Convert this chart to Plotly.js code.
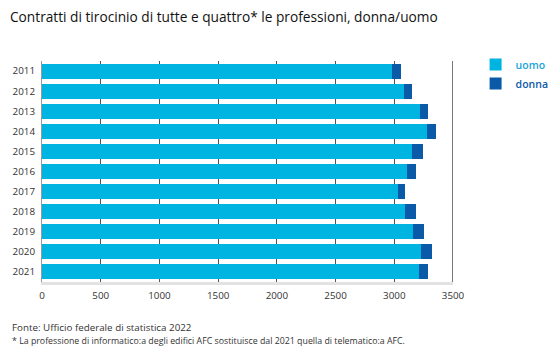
<!DOCTYPE html>
<html>
<head>
<meta charset="utf-8">
<script src="https://cdn.plot.ly/plotly-3.0.1.min.js"></script>
<style>html,body{margin:0;padding:0;background:#fff;}#chart{width:560px;height:359px;}</style>
</head>
<body>
<div id="chart"></div>
<script>
var years = ["2011","2012","2013","2014","2015","2016","2017","2018","2019","2020","2021"];
var uomo = [2980, 3085, 3220, 3275, 3150, 3105, 3030, 3095, 3160, 3225, 3210];
var donna = [75, 70, 70, 80, 95, 80, 65, 90, 95, 95, 80];
var xTicks = [0, 500, 1000, 1500, 2000, 2500, 3000, 3500];

var FONT = "Open Sans, Lato, sans-serif";
var traces = [
  {type: "bar", orientation: "h", y: years, x: uomo,
   name: '<span style="color:#1aa3da">uomo</span>',
   marker: {color: "#00b4e2"}, hoverinfo: "x+y"},
  {type: "bar", orientation: "h", y: years, x: donna,
   name: '<span style="color:#0b5aa8">donna</span>',
   marker: {color: "#0b5aa8"}, hoverinfo: "x+y"}
];

var layout = {
  width: 560, height: 359,
  margin: {l: 41.6, r: 106.7, t: 61, b: 77, autoexpand: false},
  paper_bgcolor: "#fff", plot_bgcolor: "#fff",
  font: {family: FONT, size: 11, color: "#333"},
  barmode: "stack", bargap: 0.25,
  title: {text: "Contratti di tirocinio di tutte e quattro* le professioni, donna/uomo",
          x: 10/560, xref: "container", xanchor: "left",
          y: 1 - 17/359, yref: "container", yanchor: "middle",
          font: {family: FONT, size: 13.7, color: "#111"}},
  xaxis: {range: [0, 3500], tickvals: xTicks, ticktext: xTicks.map(String),
          showgrid: true, gridcolor: "#555", gridwidth: 1, zeroline: false,
          showline: true, linecolor: "#e2e2e2", linewidth: 3,
          ticks: "", ticklabelstandoff: 2, tickfont: {size: 9.8, color: "#333"}, fixedrange: true},
  yaxis: {categoryorder: "array", categoryarray: years, autorange: "reversed",
          tickvals: years, ticktext: years,
          showline: true, linecolor: "#999", linewidth: 1,
          ticks: "", ticklabelstandoff: 4, tickfont: {size: 9.8, color: "#333"},
          showgrid: false, zeroline: false, fixedrange: true},
  showlegend: true,
  legend: {x: 1.055, xanchor: "left", y: 1.05, yanchor: "top",
           traceorder: "normal", font: {size: 10.5, family: FONT, weight: 600},
           itemwidth: 30, bgcolor: "rgba(0,0,0,0)"},
  shapes: [
    {type: "line", xref: "x", yref: "paper", x0: 3500, x1: 3500, y0: 0, y1: 1,
     line: {color: "#777", width: 2}, layer: "above"}
  ],
  annotations: [
    {xref: "paper", yref: "paper", x: (10-41.6)/411.7, y: (282-327)/221,
     xanchor: "left", yanchor: "middle", showarrow: false,
     text: "Fonte: Ufficio federale di statistica 2022",
     font: {size: 9.8, color: "#333", family: FONT}},
    {xref: "paper", yref: "paper", x: (10-41.6)/411.7, y: (282-341)/221,
     xanchor: "left", yanchor: "middle", showarrow: false,
     text: "* La professione di informatico:a degli edifici AFC sostituisce dal 2021 quella di telematico:a AFC.",
     font: {size: 8.8, color: "#333", family: FONT}}
  ]
};

Plotly.newPlot("chart", traces, layout, {displayModeBar: false, staticPlot: true});
</script>
</body>
</html>
